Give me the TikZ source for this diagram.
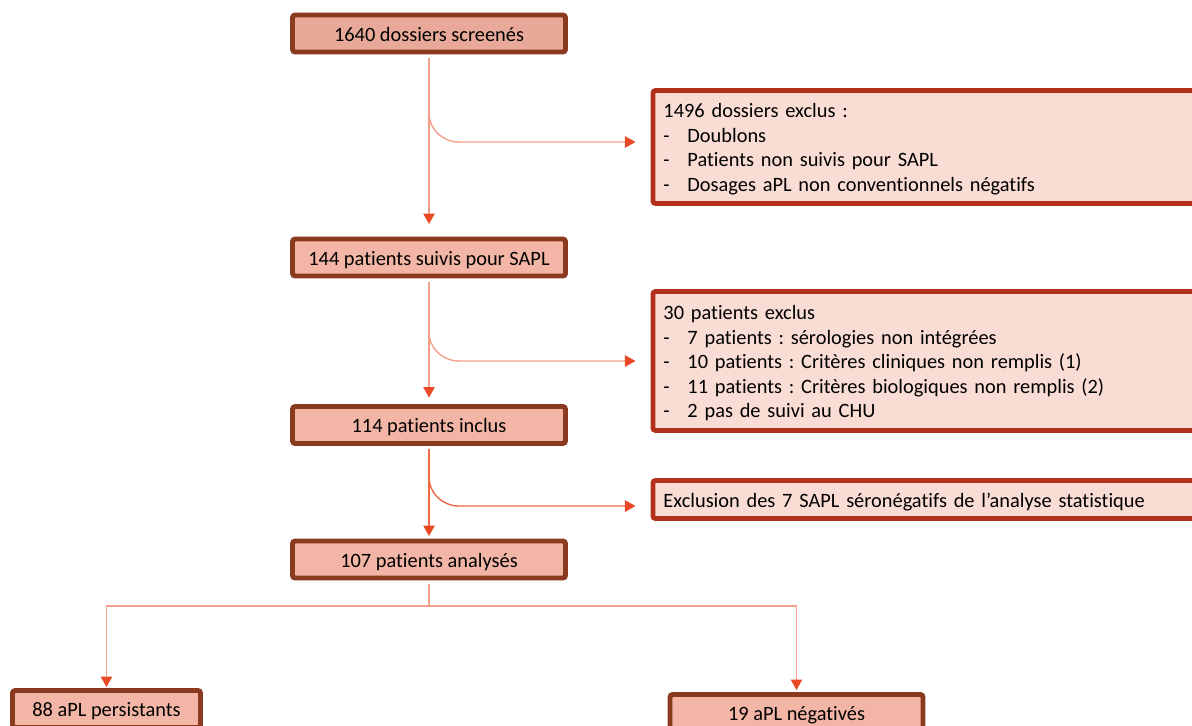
\documentclass[tikz,border=0pt]{standalone}
\usepackage{fontspec}
\setmainfont{Carlito}[Ligatures=NoCommon]
\usetikzlibrary{arrows.meta}
\frenchspacing
\definecolor{boxfillA}{HTML}{E9A999}
\definecolor{boxfill}{HTML}{F3B5A5}
\definecolor{boxborder}{HTML}{8A3A1F}
\definecolor{exclfill}{HTML}{F9DCD3}
\definecolor{exclborder}{HTML}{B3311A}
\definecolor{linepale}{HTML}{F4A08C}
\definecolor{lineorange}{HTML}{EE6845}
\definecolor{tipcol}{HTML}{E84A27}
\newcommand\itm{\makebox[0.48cm][l]{-}}
\newcommand\exlines[1]{\raisebox{-0.055cm}[\height][\depth]{\begin{tabular}{@{}l@{}}#1\end{tabular}}}
\tikzset{
  mainbox/.style={draw=boxborder, fill=boxfill, line width=2.8pt, rounded corners=1.5pt,
    minimum width=5.46cm, minimum height=0.74cm, inner sep=0pt, text=black,
    text height=9pt, text depth=0pt},
  exclbox/.style={draw=exclborder, fill=exclfill, line width=2.8pt, rounded corners=1.5pt,
    anchor=west, text width=11cm, inner xsep=0.21cm, inner ysep=0pt, align=left, text=black},
  conn/.style={draw=linepale, line width=0.8pt,
    -{Triangle[length=6pt,width=6.5pt,color=tipcol]}},
  connO/.style={conn, draw=lineorange},
  plain/.style={draw=linepale, line width=0.8pt}
}
\begin{document}
\begin{tikzpicture}[x=0.02cm,y=-0.02cm,
  every node/.style={font=\fontsize{11.6pt}{14pt}\selectfont}]
\useasboundingbox (0,0) rectangle (1192,725);
\clip (0,0) rectangle (1192,725);
\fill[white] (0,0) rectangle (1192,725);

% main column
\node[mainbox, fill=boxfillA] (n1) at (429,33.5) {1640 dossiers screenés};
\node[mainbox] (n2) at (429,257.5) {144 patients suivis pour SAPL};
\node[mainbox] (n3) at (429,425) {114 patients inclus};
\node[mainbox] (n4) at (429,559.5) {107 patients analysés};
\node[mainbox, minimum width=3.76cm] (n5) at (106.5,709) {88 aPL persistants};
\node[mainbox, minimum width=5.06cm] (n6) at (796.5,713) {19 aPL négativés};

% exclusion boxes
\node[exclbox, minimum height=2.26cm] (e1) at (650.5,147) {\exlines{1496 dossiers exclus :\\
\itm Doublons\\
\itm Patients non suivis pour SAPL\\
\itm Dosages aPL non conventionnels négatifs}};
\node[exclbox, minimum height=2.78cm] (e2) at (650.5,361) {\exlines{30 patients exclus\\
\itm 7 patients : sérologies non intégrées\\
\itm 10 patients : Critères cliniques non remplis (1)\\
\itm 11 patients : Critères biologiques non remplis (2)\\
\itm 2 pas de suivi au CHU}};
\node[exclbox, minimum height=0.76cm] (e3) at (650.5,499.5) {\exlines{Exclusion des 7 SAPL séronégatifs de l’analyse statistique}};

% branch points
\coordinate (b1) at (429,113); \coordinate (h1) at (459,142);
\coordinate (b2) at (429,332); \coordinate (h2) at (459,361);
\coordinate (b3) at (429,477); \coordinate (h3) at (459,506);
\coordinate (j) at (429,606);

% vertical connectors
\draw[conn, shorten <=2pt, shorten >=0.25cm] (n1.south) -- (n2.north);
\draw[conn, shorten <=2pt, shorten >=0.13cm] (n2.south) -- (n3.north);
\draw[connO, shorten <=2pt, shorten >=0.05cm] (n3.south) -- (n4.north);

% branches to exclusion boxes
\draw[conn, shorten >=0.3cm] (b1) to[out=-90,in=180] (h1) -- (h1 -| e1.west);
\draw[conn, shorten >=0.3cm] (b2) to[out=-90,in=180] (h2) -- (h2 -| e2.west);
\draw[connO, shorten >=0.3cm] (b3) to[out=-90,in=180] (h3) -- (h3 -| e3.west);

% split
\draw[plain, shorten <=2pt] (n4.south) -- (j);
\draw[conn, shorten >=0.02cm] (j) -| (n5.north);
\draw[conn, shorten >=0.04cm] (j) -| (n6.north);
\end{tikzpicture}
\end{document}
